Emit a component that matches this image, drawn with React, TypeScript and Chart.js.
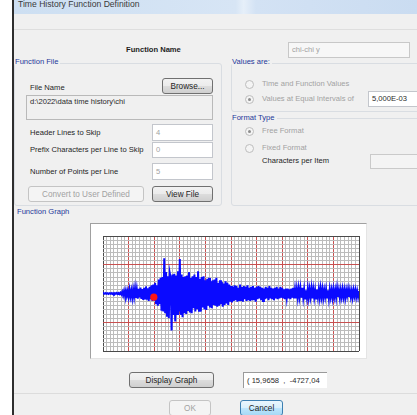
import React, { useEffect, useRef } from "react";
import { Chart, registerables } from "chart.js";

Chart.register(...registerables);

// ---- data (acceleration record sampled at equal intervals) ----
const SAMPLE_STEP = 0.25; // seconds between samples
const X_MIN = 0;
const X_MAX = 70;
const X_MINOR = 1;
const X_MAJOR = 7;
const Y_MIN = -70;
const Y_MAX = 70;
const Y_MINOR = 5;
const Y_MAJOR = 35;

const preEvent = [0, 0.3, -0.4, 0.5, -0.3, 0.4, -0.5, 0.3, -0.4, 0.6, -0.5, 0.4, -0.6, 0.5, -0.4, 0.7, -0.6, 0.5, -0.8, 0.9, -1];
const pWaveOnset = [2, -2.5, 3, -2.2, 3.6, -3, 2.8, -4, 4.5, -3.6, 3.4, -5, 4.4, -4, 6, -5.2, 4.6, -6.4, 5.6, -4.8, 7.2, -6.6, 5.4, -7.8, 7, -6, 8.6, -7.4, 6.4, -9, 8, -7, 10];
const sWaveArrival = [-9, 11, -8.5, 13, -12, 10, -15, 17, -13, 19, -21];
const strongMotion = [20, -22, 43, -24, 26, -27, 21, -30, 25, 19, -45, 23, -26, 24, -34, 22, -25, 27, -22, 42, -26, 23, -29, 20, -24, 21];
const decayEarly = [-25, 22, -20, 26, -23, 19, -24, 21, -18, 23, -22, 20, -19, 27, -21, 18, -22, 20, -17, 21, -19, 16, -20, 18, -15, 19, -17, 15, -18, 16, -14, 17, -15, 19, -16, 13, -15, 16, -13, 14, -16, 12, -14, 15, -12, 13, -14, 11];
const decayMid = [-10, 9, -11, 8, -9, 10, -8, 9, -10, 7, -9, 11, -8, 8, -10, 9, -7, 8, -9, 10, -8, 7, -9, 8, -7, 9, -8, 7, -10, 8, -7, 9, -6, 8, -8, 7, -9, 6, -7, 8, -6, 7, -8, 9, -6, 7, -7, 6, -8, 7, -6, 8];
const coda = [
  -7, 6, -6, 8, -5, 7, -6, 5, -7, 6,
  -5, 6, -6, 5, -7, 6, -5, 7, -6, 5,
  -6, 5, -5, 6, -4, 6, -5, 7, -5, 5,
  -6, 4, -5, 6, -5, 5, -4, 6, -6, 5,
  -5, 4, -6, 5, -4, 5, -5, 6, -4, 5,
  -5, 4, -4, 5, -5, 4, -6, 5, -4, 4,
  -5, 5, -4, 4, -5, 6, -4, 4, -5, 4,
  -4, 5, -4, 4, -5, 4, -3, 5, -4, 4,
  -4, 3, -5, 4, -3, 4, -4, 3, -4, 3,
];
const cursorPoint = [{ x: 13.9, y: -4.5 }];

const accel = [...preEvent, ...pWaveOnset, ...sWaveArrival, ...strongMotion, ...decayEarly, ...decayMid, ...coda];

const FONT = '"Liberation Sans", Arial, Helvetica, sans-serif';
const NAVY = "#24389a";
const DIS = "#a2a2a2";

function Txt({ x, y, children, color = "#1e1e1e", bold = false, size = 7.6 }: any) {
  return (
    <div
      style={{
        position: "absolute",
        left: x,
        top: y - 6,
        height: 12,
        lineHeight: "12px",
        fontSize: size,
        fontWeight: bold ? 700 : 400,
        color,
        whiteSpace: "nowrap",
        fontFamily: FONT,
      }}
    >
      {children}
    </div>
  );
}

function Field({ x, y, w, h, text = "", color = DIS, bg = "#ffffff", border = "#c3c6cc", align = "center" }: any) {
  return (
    <div
      style={{
        position: "absolute",
        left: x,
        top: y,
        width: w,
        height: h,
        boxSizing: "border-box",
        border: `1px solid ${border}`,
        background: bg,
        fontFamily: FONT,
        fontSize: 7.6,
        color,
        paddingLeft: 3,
        lineHeight: align === "center" ? `${h - 2}px` : "12px",
        whiteSpace: "nowrap",
        overflow: "hidden",
      }}
    >
      {text}
    </div>
  );
}

function Btn({ x, y, w, h, label, disabled = false, def = false }: any) {
  const background = def
    ? "linear-gradient(#eaf6fd, #d9f0fc 50%, #bee6fd 50%, #a7d9f5)"
    : disabled
    ? "#f4f4f4"
    : "linear-gradient(#f2f2f2, #ebebeb 50%, #dddddd 50%, #cfcfcf)";
  return (
    <div
      style={{
        position: "absolute",
        left: x,
        top: y,
        width: w,
        height: h,
        boxSizing: "border-box",
        border: `1px solid ${def ? "#3c7fb1" : disabled ? "#c4c4c4" : "#707070"}`,
        borderRadius: 3,
        background,
        fontFamily: FONT,
        fontSize: 8.2,
        color: disabled ? DIS : "#1e1e1e",
        display: "flex",
        alignItems: "center",
        justifyContent: "center",
        whiteSpace: "nowrap",
      }}
    >
      {label}
    </div>
  );
}

function Radio({ x, y, selected = false }: any) {
  return (
    <div
      style={{
        position: "absolute",
        left: x - 4.5,
        top: y - 4.5,
        width: 9,
        height: 9,
        boxSizing: "border-box",
        borderRadius: "50%",
        border: "1px solid #bdbdbd",
        background: "#f4f4f4",
      }}
    >
      {selected && (
        <div
          style={{
            position: "absolute",
            left: 2,
            top: 2,
            width: 3,
            height: 3,
            borderRadius: "50%",
            background: "#8d8d8d",
          }}
        />
      )}
    </div>
  );
}

function Group({ x, y, w, h }: any) {
  return (
    <div
      style={{
        position: "absolute",
        left: x,
        top: y,
        width: w,
        height: h,
        boxSizing: "border-box",
        border: "1px solid #d9dde2",
        borderRadius: 3,
      }}
    />
  );
}

function GroupLabel({ x, y, children }: any) {
  return (
    <div
      style={{
        position: "absolute",
        left: x,
        top: y - 6,
        height: 12,
        lineHeight: "12px",
        fontSize: 7.6,
        color: NAVY,
        background: "#f0f0f0",
        paddingRight: 2,
        whiteSpace: "nowrap",
        fontFamily: FONT,
      }}
    >
      {children}
    </div>
  );
}

function FunctionGraph() {
  const ref = useRef<HTMLCanvasElement | null>(null);
  useEffect(() => {
    if (!ref.current) return;
    const points = accel.map((v, i) => ({ x: i * SAMPLE_STEP, y: v }));
    const gridColor = (min: number, max: number, major: number) => (ctx: any) => {
      const v = ctx.tick ? ctx.tick.value : 0;
      if (Math.abs(v - min) < 1e-9 || Math.abs(v - max) < 1e-9) return "#4a4a4a";
      if (Math.abs(v % major) < 1e-9) return "#c85050";
      return "#bcbcbc";
    };
    const chart = new Chart(ref.current, {
      type: "line",
      data: {
        datasets: [
          {
            data: cursorPoint,
            showLine: false,
            pointRadius: 3.6,
            pointBackgroundColor: "#ff1414",
            pointBorderColor: "#ff1414",
            pointBorderWidth: 0,
            borderColor: "#ff1414",
          },
          {
            data: points,
            borderColor: "#0a0aff",
            borderWidth: 2,
            pointRadius: 0,
            tension: 0,
            fill: false,
          },
        ],
      },
      options: {
        animation: false,
        responsive: false,
        maintainAspectRatio: false,
        events: [],
        layout: { padding: 1 },
        plugins: { legend: { display: false }, tooltip: { enabled: false } },
        scales: {
          x: {
            type: "linear",
            min: X_MIN,
            max: X_MAX,
            ticks: { display: false, stepSize: X_MINOR },
            grid: { color: gridColor(X_MIN, X_MAX, X_MAJOR), lineWidth: 1, drawTicks: false },
            border: { display: false },
          },
          y: {
            type: "linear",
            min: Y_MIN,
            max: Y_MAX,
            ticks: { display: false, stepSize: Y_MINOR },
            grid: { color: gridColor(Y_MIN, Y_MAX, Y_MAJOR), lineWidth: 1, drawTicks: false },
            border: { display: false },
          },
        },
      } as any,
    });
    return () => chart.destroy();
  }, []);
  return (
    <canvas
      ref={ref}
      width={264}
      height={123}
      style={{ position: "absolute", left: 99, top: 232, width: 264, height: 123, display: "block" }}
    />
  );
}

export default function App() {
  return (
    <div
      style={{
        position: "absolute",
        left: 0,
        top: 0,
        width: 417,
        height: 415,
        overflow: "hidden",
        background: "#ffffff",
        fontFamily: FONT,
      }}
    >
      {/* title bar */}
      <div
        style={{
          position: "absolute",
          left: 14,
          top: 0,
          width: 403,
          height: 14,
          overflow: "hidden",
          background: "linear-gradient(90deg, #cddff2 0%, #d7e5f5 55%, #e6eff9 57%, #d3e2f4 60%, #cadcf1 100%)",
        }}
      >
        <div
          style={{
            position: "absolute",
            left: 4,
            top: -1,
            fontSize: 8.6,
            lineHeight: "11px",
            color: "#3a3a3a",
            whiteSpace: "nowrap",
            fontFamily: FONT,
          }}
        >
          Time History Function Definition
        </div>
      </div>
      {/* left window frame */}
      <div style={{ position: "absolute", left: 12, top: 0, width: 2, height: 415, background: "#2e2e2e" }} />
      {/* dialog body */}
      <div style={{ position: "absolute", left: 14, top: 14, width: 403, height: 401, background: "#f0f0f0" }} />
      <div style={{ position: "absolute", left: 14, top: 29, width: 403, height: 1, background: "#dedede" }} />

      <Txt x={126} y={50} bold>
        Function Name
      </Txt>
      <Field x={288} y={42} w={122} h={16} text="chi-chi y" bg="#f7f7f7" border="#c8c8c8" />

      {/* Function File group */}
      <Group x={14} y={63} w={208} h={143} />
      <GroupLabel x={15} y={62}>
        Function File
      </GroupLabel>
      <Txt x={30} y={88}>
        File Name
      </Txt>
      <Btn x={162} y={78} w={51} h={16} label="Browse..." />
      <Field x={26} y={95} w={187} h={25} text="d:\2022\data time history\chi" color="#2a2a2a" bg="#f0f0f0" border="#b9b9b9" align="top" />
      <Txt x={30} y={133}>
        Header Lines to Skip
      </Txt>
      <Field x={152} y={124} w={61} h={17} text="4" />
      <Txt x={30} y={150}>
        Prefix Characters per Line to Skip
      </Txt>
      <Field x={152} y={142} w={61} h={16} text="0" />
      <Txt x={30} y={172}>
        Number of Points per Line
      </Txt>
      <Field x={152} y={163} w={61} h={17} text="5" />
      <Btn x={28} y={186} w={116} h={16} label="Convert to User Defined" disabled />
      <Btn x={152} y={186} w={61} h={16} label="View File" />

      {/* Values are group */}
      <Group x={231} y={63} w={200} h={49} />
      <GroupLabel x={232} y={62}>
        Values are:
      </GroupLabel>
      <Radio x={249} y={84} />
      <Txt x={262} y={84} color={DIS}>
        Time and Function Values
      </Txt>
      <Radio x={249} y={99} selected />
      <Txt x={262} y={99} color={DIS}>
        Values at Equal Intervals of
      </Txt>
      <Field x={368} y={91} w={60} h={16} text="5,000E-03" color="#2a2a2a" />

      {/* Format Type group */}
      <Group x={231} y={118} w={200} h={88} />
      <GroupLabel x={232} y={118}>
        Format Type
      </GroupLabel>
      <Radio x={249} y={131} selected />
      <Txt x={262} y={131} color={DIS}>
        Free Format
      </Txt>
      <Radio x={249} y={148} />
      <Txt x={262} y={148} color={DIS}>
        Fixed Format
      </Txt>
      <Txt x={262} y={161}>
        Characters per Item
      </Txt>
      <Field x={370} y={154} w={60} h={15} bg="#f4f4f4" border="#cacaca" />

      {/* Function Graph */}
      <Txt x={17} y={212} color={NAVY}>
        Function Graph
      </Txt>
      <div
        style={{
          position: "absolute",
          left: 90,
          top: 223,
          width: 277,
          height: 136,
          boxSizing: "border-box",
          background: "#ffffff",
          borderTop: "1px solid #a0a0a0",
          borderLeft: "1px solid #a0a0a0",
          borderRight: "1px solid #e4e4e4",
          borderBottom: "1px solid #e4e4e4",
        }}
      />
      <FunctionGraph />

      <Btn x={129} y={372} w={85} h={16} label="Display Graph" />
      <div
        style={{
          position: "absolute",
          left: 243,
          top: 372,
          width: 84,
          height: 16,
          boxSizing: "border-box",
          background: "#ffffff",
          borderTop: "1px solid #9a9a9a",
          borderLeft: "1px solid #9a9a9a",
          fontFamily: FONT,
          fontSize: 7.6,
          lineHeight: "15px",
          paddingLeft: 3,
          color: "#2a2a2a",
          whiteSpace: "pre",
        }}
      >
        {"( 15,9658  ,  -4727,04"}
      </div>
      <div style={{ position: "absolute", left: 14, top: 393, width: 403, height: 1, background: "#dcdcdc" }} />
      <Btn x={169} y={400} w={42} h={16} label="OK" disabled />
      <Btn x={240} y={400} w={43} h={16} label="Cancel" def />
    </div>
  );
}
